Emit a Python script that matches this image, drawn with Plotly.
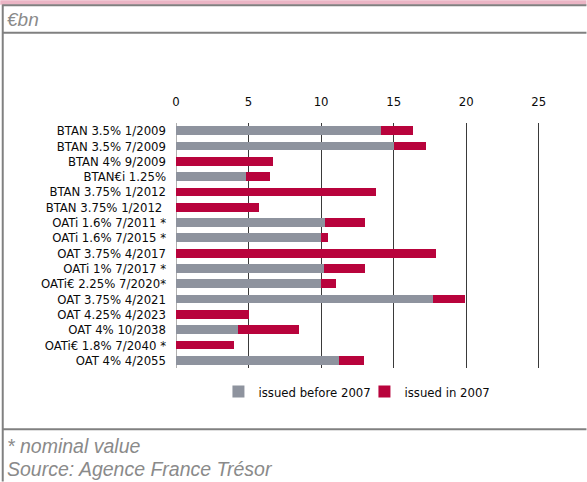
import plotly.graph_objects as go

bonds = [
    "BTAN 3.5% 1/2009", "BTAN 3.5% 7/2009", "BTAN 4% 9/2009", "BTAN€i 1.25%",
    "BTAN 3.75% 1/2012", "BTAN 3.75% 1/2012 ", "OATi 1.6% 7/2011 *", "OATi 1.6% 7/2015 *",
    "OAT 3.75% 4/2017", "OATi 1% 7/2017 *", "OATi€ 2.25% 7/2020*", "OAT 3.75% 4/2021",
    "OAT 4.25% 4/2023", "OAT 4% 10/2038", "OATi€ 1.8% 7/2040 *", "OAT 4% 4/2055",
]
issued_before_2007 = [14.1, 15.0, 0, 4.8, 0, 0, 10.25, 10.0, 0, 10.2, 10.0, 17.7, 0, 4.3, 0, 11.25]
issued_in_2007 = [2.2, 2.2, 6.7, 1.7, 13.8, 5.7, 2.8, 0.45, 17.9, 2.85, 1.0, 2.2, 5.0, 4.2, 4.0, 1.7]
x_ticks = [0, 5, 10, 15, 20, 25]

W, H = 587, 482
L, R = 176, 546.5
T, B = 123, 368.3
XMAX = 25.5

def px_x(p):
    return (p - L) / (R - L)

def px_y(p):
    return (B - p) / (B - T)

GREY = "#8e939e"
RED = "#b8033c"
FONT = "DejaVu Sans Condensed, Liberation Sans Narrow, Arial Narrow, sans-serif"
NOTE_FONT = "Liberation Sans, Arial, sans-serif"
TXT = "#0a0a0a"

fig = go.Figure()
fig.add_trace(go.Bar(y=bonds, x=issued_before_2007, orientation="h",
                     name="issued before 2007", marker=dict(color=GREY, line=dict(width=0))))
fig.add_trace(go.Bar(y=bonds, x=issued_in_2007, orientation="h",
                     name="issued in 2007", marker=dict(color=RED, line=dict(width=0))))

shapes = []
shapes.append(dict(type="rect", xref="paper", yref="paper", x0=px_x(0), x1=px_x(W),
                   y0=px_y(0), y1=px_y(4.5), fillcolor="#ebb5c5", line=dict(width=0), layer="below"))
for yy in [5.2, 32.7, 429.5]:
    shapes.append(dict(type="line", xref="paper", yref="paper", x0=px_x(2), x1=px_x(W),
                       y0=px_y(yy), y1=px_y(yy), line=dict(color="#808080", width=2)))
shapes.append(dict(type="line", xref="paper", yref="paper", x0=px_x(2.5), x1=px_x(2.5),
                   y0=px_y(4.5), y1=px_y(H), line=dict(color="#808080", width=2)))

annotations = [
    dict(text="<i>€bn</i>", xref="paper", yref="paper", x=px_x(5), y=px_y(19), xanchor="left",
         yanchor="middle", showarrow=False,
         font=dict(family=NOTE_FONT, size=19, color="#8a8a8a")),
    dict(text="<i>* nominal value</i>", xref="paper", yref="paper", x=px_x(5), y=px_y(446),
         xanchor="left", yanchor="middle", showarrow=False,
         font=dict(family=NOTE_FONT, size=19.5, color="#8a8a8a")),
    dict(text="<i>Source: Agence France Trésor</i>", xref="paper", yref="paper", x=px_x(5),
         y=px_y(469), xanchor="left", yanchor="middle", showarrow=False,
         font=dict(family=NOTE_FONT, size=19.5, color="#8a8a8a")),
]

fig.update_layout(
    width=W, height=H,
    margin=dict(l=L, r=W - R, t=T, b=H - B, pad=0),
    paper_bgcolor="white", plot_bgcolor="white",
    barmode="stack", bargap=0.43,
    font=dict(family=FONT, size=13, color=TXT),
    showlegend=True,
    legend=dict(orientation="h", x=px_x(218.5), y=px_y(392), xanchor="left", yanchor="middle",
                font=dict(family=FONT, size=13, color=TXT),
                itemwidth=30, entrywidth=101, entrywidthmode="pixels",
                traceorder="normal", bgcolor="rgba(0,0,0,0)"),
    xaxis=dict(side="top", range=[0, XMAX], tickvals=x_ticks, showgrid=True,
               gridcolor="#3a3a3a", gridwidth=1, zeroline=True, zerolinecolor="#b0b0b0",
               zerolinewidth=1, showline=False, ticks="", ticklabelstandoff=13,
               tickfont=dict(family=FONT, size=13, color=TXT)),
    yaxis=dict(autorange="reversed", showgrid=False, zeroline=False, showline=False,
               ticks="", ticklabelstandoff=9, dtick=1, tickmode="linear",
               tickfont=dict(family=FONT, size=13, color=TXT)),
    shapes=shapes, annotations=annotations,
)

fig.write_html("out.html", config={"displayModeBar": False},
               post_script="document.body.style.margin='0';document.body.style.padding='0';")
